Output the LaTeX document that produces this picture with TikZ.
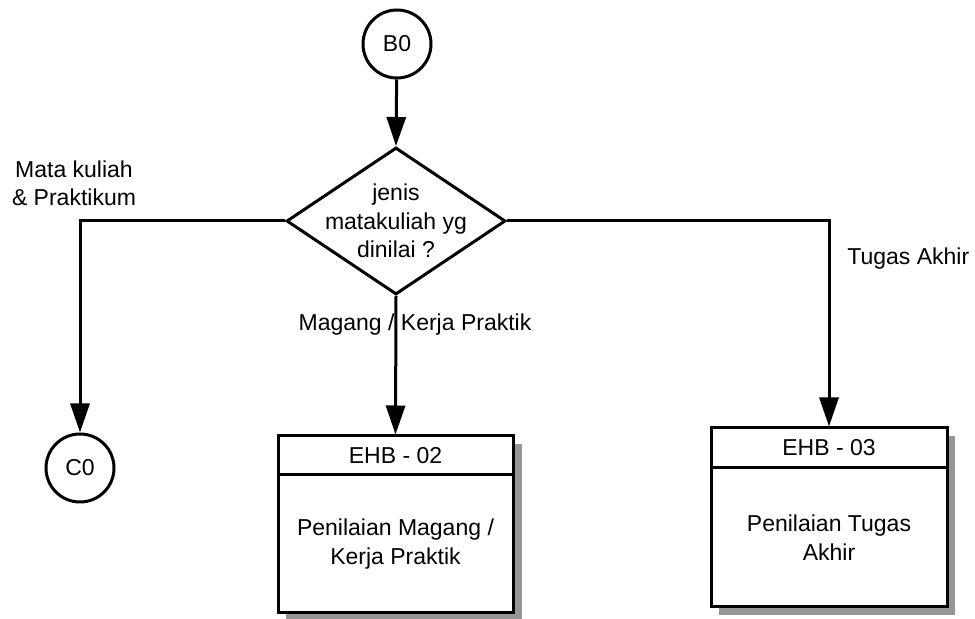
\documentclass[tikz,border=0pt]{standalone}
\usepackage{fontspec}
\setmainfont{Liberation Sans}
\usetikzlibrary{shapes.geometric,arrows.meta}
\definecolor{shadowgray}{RGB}{150,150,150}
\begin{document}
\begin{tikzpicture}[x=0.5pt,y=-0.5pt,
  every node/.style={font=\fontsize{11.5}{14.2}\selectfont},
  conn/.style={circle,draw,line width=1.5pt,minimum size=34pt,inner sep=0pt},
  decision/.style={diamond,draw,line width=1.5pt,minimum width=109.5pt,minimum height=73.5pt,inner sep=0pt},
  procbox/.style={rectangle,draw,line width=1.5pt,fill=white,inner sep=0pt},
  shadowfill/.style={fill=shadowgray,draw=none},
  arr/.style={line width=1.5pt,-{Triangle[length=14.5pt,width=9.5pt]}},
  lbl/.style={align=center,inner sep=0pt}]
\useasboundingbox (0,0) rectangle (975,619);
% shadows
\path[shadowfill] (286,444) rectangle (522,619);
\path[shadowfill] (719,436) rectangle (955,615);
% connector circles
\node[conn] (B0) at (397,44) {B0};
\node[conn] (C0) at (80,468) {C0};
% decision
\node[decision] (dia) at (396,221) {};
\node[lbl] (diat) at (396,221) {jenis\\matakuliah yg\\dinilai ?};
% box EHB-02
\node[procbox,minimum width=117.5pt,minimum height=88.5pt] (box2) at (395.5,524.5) {};
\coordinate (d2l) at (278,475);
\coordinate (d2r) at (513,475);
\draw[line width=1.5pt] (d2l) -- (d2r);
\node[lbl] (h2) at (395.5,455.5) {EHB - 02};
\node[lbl] (t2) at (395.5,544) {Penilaian Magang /\\Kerja Praktik};
% box EHB-03
\node[procbox,minimum width=118pt,minimum height=89.5pt] (box3) at (829,517.5) {};
\coordinate (d3l) at (711,468);
\coordinate (d3r) at (947,468);
\draw[line width=1.5pt] (d3l) -- (d3r);
\node[lbl] (h3) at (829,448) {EHB - 03};
\node[lbl] (t3) at (829,537.5) {Penilaian Tugas\\Akhir};
% arrows
\draw[arr] (B0) -- (dia.north);
\draw[arr] (dia.west) -| (C0.north);
\draw[arr] (dia.south) -- (box2.north);
\draw[arr] (dia.east) -| (box3.north);
% labels
\node[lbl] (l1) at (74,183) {Mata kuliah\\\& Praktikum};
\node[lbl] (l2) at (415,325) {Magang / Kerja Praktik};
\node[lbl,anchor=west] (l3) at (847,259) {Tugas Akhir};
\end{tikzpicture}
\end{document}
